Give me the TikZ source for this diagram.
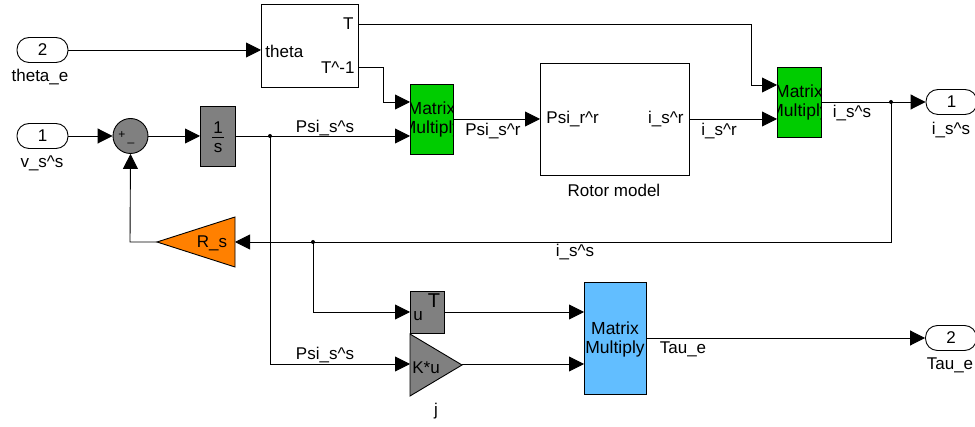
\documentclass[tikz,border=0pt]{standalone}
\usepackage{fontspec}
\setmainfont{Liberation Sans}
\usetikzlibrary{arrows.meta}
\definecolor{mmgreen}{RGB}{0,204,0}
\definecolor{mmblue}{RGB}{98,190,255}
\definecolor{gorange}{RGB}{255,128,0}
\definecolor{ggray}{RGB}{128,128,128}
\newcommand{\us}{\_}
\newcommand{\crt}{\textasciicircum{}}
\begin{document}
\begin{tikzpicture}[x=1pt,y=-1pt,line width=0.9pt,
  every node/.style={font=\fontsize{17}{19}\selectfont, inner sep=0pt},
  blk/.style={draw, anchor=north west, inner sep=0pt},
  port/.style={draw, rounded corners=12pt, minimum width=51pt, minimum height=25pt},
  arr/.style={-{Triangle[length=15pt,width=15pt]}},
  mm/.style={align=center, font=\fontsize{17.5}{19}\selectfont}]
\useasboundingbox (0,0) rectangle (975,427);

% ports
\node[port] (in2) at (42.5,50) {2};
\node at (40,77) {theta\us e};
\node[port] (in1) at (42.5,136) {1};
\node at (42,163) {v\us s\crt s};
\node[port] (out1) at (951.5,102) {1};
\node at (951,130) {i\us s\crt s};
\node[port] (out2) at (951,338) {2};
\node at (950,365) {Tau\us e};

% theta block
\node[blk, minimum width=97pt, minimum height=83pt] (theta) at (261,4) {};
\node[anchor=west] at (265,51) {theta};
\node[anchor=east] at (354,24) {T};
\node[anchor=east] at (355,68) {T\crt-1};

% green matrix multiply 1
\node[blk, fill=mmgreen, minimum width=43pt, minimum height=70pt] (g1) at (410,84) {};
\begin{scope}
  \clip (410,84) rectangle (453,154);
  \node[mm] at (431.5,119) {Matrix\\Multiply};
\end{scope}

% rotor model
\node[blk, minimum width=149pt, minimum height=112pt] (rot) at (540,63) {};
\node[anchor=west] at (546,119) {Psi\us r\crt r};
\node[anchor=east] at (684,119) {i\us s\crt r};
\node at (614,190) {Rotor model};

% green matrix multiply 2
\node[blk, fill=mmgreen, minimum width=44pt, minimum height=70pt] (g2) at (777,67) {};
\begin{scope}
  \clip (777,67) rectangle (821,137);
  \node[mm] at (799,102) {Matrix\\Multiply};
\end{scope}

% sum
\node[draw, circle, fill=ggray, minimum size=35pt] (sum) at (130.5,136) {};
\node[font=\fontsize{12}{13}\selectfont] at (122,135) {+};
\node[font=\fontsize{12}{13}\selectfont] at (131,143) {\us};

% integrator
\node[blk, fill=ggray, minimum width=35pt, minimum height=60pt] (int) at (200,106) {};
\node at (218,128) {1};
\draw[line width=0.8pt] (212,137) -- (224,137);
\node at (218,148) {s};

% R_s gain
\draw[fill=gorange] (235,217) -- (235,267) -- (157,242) -- cycle;
\coordinate (rsin) at (235,242);
\coordinate (rsout) at (157,242);
\node at (212,243) {R\us s};

% u^T block
\node[blk, fill=ggray, minimum width=34pt, minimum height=42pt] (ut) at (410,291) {};
\node at (418,316) {u};
\node[font=\fontsize{20}{22}\selectfont] at (434,301) {T};

% K*u gain
\draw[fill=ggray] (410,334) -- (410,396) -- (462,365) -- cycle;
\coordinate (kin) at (410,364);
\coordinate (kout) at (462,364);
\node at (426,368) {K*u};
\node at (436,411) {j};

% blue matrix multiply
\node[blk, fill=mmblue, minimum width=62pt, minimum height=112pt] (bm) at (584,282) {};
\node[mm] at (615,339) {Matrix\\Multiply};

% junctions
\coordinate (ja) at (270,136);
\coordinate (jb) at (313,242);
\coordinate (jc) at (891,102);

% connectors
\draw[arr] (in2.east) -- (261,50);
\draw[arr] (358,24) -- (751,24) -- (751,85) -- (777,85);
\draw[arr] (358,67) -- (383,67) -- (383,102) -- (410,102);
\draw[arr] (in1.east) -- (sum.west);
\draw[arr] (sum.east) -- (200,136);
\draw[arr] (235,136) -- (410,136);
\draw[arr] (453,119) -- (540,119);
\draw[arr] (689,119) -- (777,119);
\draw[arr] (821,102) -- (out1.west);
\draw[arr] (jc) -- (891,242) -- (rsin);
\draw[arr] (rsout) -- (130,242) -- (sum.south);
\draw[arr] (ja) -- (270,364) -- (kin);
\draw[arr] (jb) -- (313,312) -- (410,312);
\draw[arr] (444,312) -- (584,312);
\draw[arr] (kout) -- (584,364);
\draw[arr] (646,338) -- (out2.west);

\fill (ja) circle (2pt);
\fill (jb) circle (2pt);
\fill (jc) circle (2pt);

% line labels
\node at (325,128) {Psi\us s\crt s};
\node at (493,131) {Psi\us s\crt r};
\node at (719,131) {i\us s\crt r};
\node at (852,113) {i\us s\crt s};
\node at (575,252) {i\us s\crt s};
\node at (325,355) {Psi\us s\crt s};
\node at (683,349) {Tau\us e};
\end{tikzpicture}
\end{document}
